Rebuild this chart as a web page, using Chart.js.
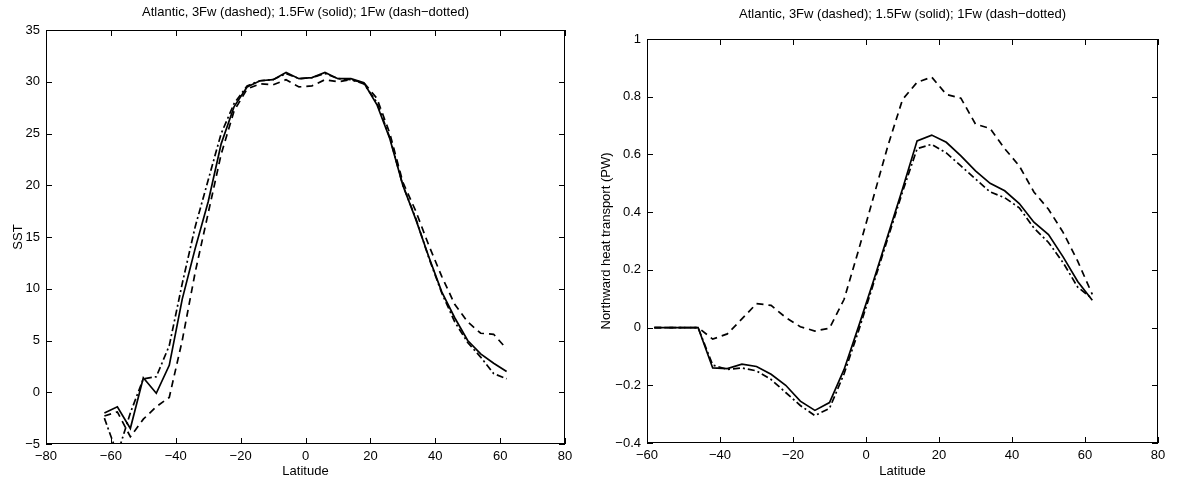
<!DOCTYPE html>
<html>
<head>
<meta charset="utf-8">
<script src="https://cdn.jsdelivr.net/npm/chart.js@4/dist/chart.umd.min.js"></script>
<style>
  body { margin: 0; background: #fff; width: 1177px; height: 481px; overflow: hidden; position: relative; }
  canvas { position: absolute; top: 0; }
  #sst { left: 0; }
  #heat { left: 590px; }
</style>
</head>
<body>
<canvas id="sst" width="590" height="481"></canvas>
<canvas id="heat" width="587" height="481"></canvas>
<script>
const titleText = 'Atlantic, 3Fw (dashed); 1.5Fw (solid); 1Fw (dash\u2212dotted)';

// SST panel
const sstLat = [-62, -58, -54, -50, -46, -42, -38, -34, -30, -26, -22, -18, -14, -10, -6, -2,
                2, 6, 10, 14, 18, 22, 26, 30, 34, 38, 42, 46, 50, 54, 58, 62];
const sst3Fw = [-2.3, -1.9, -4.3, -2.6, -1.4, -0.5, 5.0, 11.6, 17.3, 23.0, 27.2, 29.3, 29.8, 29.7, 30.2, 29.5,
                29.6, 30.2, 30.0, 30.2, 29.9, 28.4, 25.0, 20.3, 17.5, 14.2, 11.2, 8.5, 6.8, 5.7, 5.6, 4.2];
const sst15Fw = [-2.0, -1.4, -3.5, 1.4, -0.1, 2.6, 9.0, 13.9, 18.4, 24.0, 27.6, 29.5, 30.1, 30.2, 30.9, 30.3,
                 30.4, 30.9, 30.3, 30.3, 29.9, 27.8, 24.5, 20.0, 16.7, 13.1, 9.7, 7.2, 5.0, 3.7, 2.8, 2.0];
const sst1Fw = [-2.5, -6.0, -2.0, 1.3, 1.5, 4.5, 10.5, 16.0, 20.5, 25.0, 27.9, 29.6, 30.1, 30.2, 30.8, 30.3,
                30.4, 30.8, 30.3, 30.2, 29.8, 28.0, 24.6, 20.0, 16.8, 13.0, 9.6, 6.8, 4.8, 3.4, 1.8, 1.3];

// heat transport panel
const heatLat = [-58, -54, -50, -46, -42, -38, -34, -30, -26, -22, -18, -14, -10, -6, -2,
                 2, 6, 10, 14, 18, 22, 26, 30, 34, 38, 42, 46, 50, 54, 58, 62];
const heat3Fw = [0, 0, 0, 0, -0.04, -0.022, 0.03, 0.083, 0.077, 0.035, 0.003, -0.012, -0.002, 0.098, 0.27,
                 0.45, 0.63, 0.79, 0.85, 0.868, 0.808, 0.795, 0.705, 0.69, 0.62, 0.56, 0.47, 0.41, 0.33, 0.23, 0.115];
const heat15Fw = [0, 0, 0, 0, -0.14, -0.142, -0.127, -0.135, -0.162, -0.2, -0.255, -0.287, -0.26, -0.145, 0.005,
                  0.16, 0.32, 0.48, 0.647, 0.667, 0.642, 0.595, 0.543, 0.5, 0.474, 0.43, 0.365, 0.322, 0.245, 0.16, 0.095];
const heat1Fw = [0, 0, 0, 0, -0.13, -0.145, -0.14, -0.15, -0.18, -0.225, -0.27, -0.305, -0.28, -0.16, -0.01,
                 0.15, 0.31, 0.47, 0.62, 0.635, 0.605, 0.56, 0.515, 0.47, 0.45, 0.415, 0.345, 0.295, 0.225, 0.14, 0.1];

const font = 'Liberation Sans, Arial, Helvetica, sans-serif';

function points(xs, ys) {
  return xs.map((x, i) => ({ x: x, y: ys[i] }));
}

function minus(v) {
  const s = String(Math.round(v * 1000) / 1000);
  return s.replace('-', '\u2212');
}

// box round the plot with inward ticks on all four sides, like the original
const frame = {
  id: 'frame',
  afterDatasetsDraw(chart) {
    const { ctx, chartArea: a, scales: { x, y } } = chart;
    ctx.save();
    ctx.strokeStyle = '#000';
    ctx.lineWidth = 1;
    ctx.strokeRect(a.left + 0.5, a.top + 0.5, a.width - 1, a.height - 1);
    ctx.beginPath();
    x.ticks.forEach(t => {
      const px = Math.round(x.getPixelForValue(t.value)) + 0.5;
      ctx.moveTo(px, a.bottom); ctx.lineTo(px, a.bottom - 6);
      ctx.moveTo(px, a.top); ctx.lineTo(px, a.top + 6);
    });
    y.ticks.forEach(t => {
      const py = Math.round(y.getPixelForValue(t.value)) + 0.5;
      ctx.moveTo(a.left, py); ctx.lineTo(a.left + 6, py);
      ctx.moveTo(a.right, py); ctx.lineTo(a.right - 6, py);
    });
    ctx.stroke();
    ctx.restore();
  }
};

function makeChart(id, lat, s3, s15, s1, opts) {
  const ds = (data, dash) => ({
    data: points(lat, data),
    borderColor: '#000',
    borderWidth: 1.7,
    borderDash: dash,
    pointRadius: 0,
    tension: 0,
    fill: false
  });
  return new Chart(document.getElementById(id), {
    type: 'line',
    data: {
      datasets: [
        ds(s3, [7, 5]),
        ds(s15, []),
        ds(s1, [7, 3, 2, 3])
      ]
    },
    plugins: [frame],
    options: {
      responsive: false,
      animation: false,
      layout: { padding: { left: opts.padLeft, right: opts.padRight, top: opts.padTop, bottom: 0 } },
      plugins: {
        legend: { display: false },
        tooltip: { enabled: false },
        title: {
          display: true,
          text: titleText,
          fullSize: false,
          color: '#000',
          font: { family: font, size: 13, weight: 'normal' },
          padding: { top: 4, bottom: opts.titleGap }
        }
      },
      scales: {
        x: {
          type: 'linear',
          min: opts.xMin, max: 80,
          grid: { display: false, drawTicks: false },
          border: { display: false },
          afterFit: s => { s.height = 481 - opts.bottom; },
          ticks: { stepSize: 20, padding: 5, color: '#000', font: { family: font, size: 13 }, callback: v => minus(v) },
          title: { display: true, text: 'Latitude', color: '#000', font: { family: font, size: 13 }, padding: { top: 0, bottom: 2 } }
        },
        y: {
          min: opts.yMin, max: opts.yMax,
          grid: { display: false, drawTicks: false },
          border: { display: false },
          afterFit: s => { s.width = opts.left - opts.padLeft; },
          ticks: { stepSize: opts.yStep, padding: 6, color: '#000', font: { family: font, size: 13 }, callback: v => minus(v) },
          title: { display: true, text: opts.yTitle, color: '#000', font: { family: font, size: 13 }, padding: { top: opts.yTitlePad, bottom: 0 } }
        }
      }
    }
  });
}

makeChart('sst', sstLat, sst3Fw, sst15Fw, sst1Fw, {
  xMin: -80, yMin: -5, yMax: 35, yStep: 5, yTitle: 'SST',
  left: 46, bottom: 444, padLeft: 0, padRight: 25, padTop: 1, titleGap: 9.4, yTitlePad: 11
});

makeChart('heat', heatLat, heat3Fw, heat15Fw, heat1Fw, {
  xMin: -60, yMin: -0.4, yMax: 1, yStep: 0.2, yTitle: 'Northward heat transport (PW)',
  left: 57, bottom: 443, padLeft: 0, padRight: 19, padTop: 3, titleGap: 16.4, yTitlePad: 9
});
</script>
</body>
</html>
